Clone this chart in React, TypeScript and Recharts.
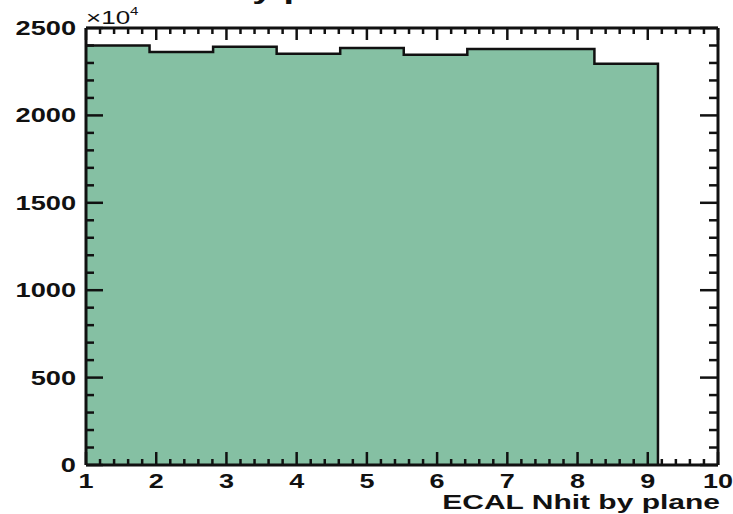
import { Area, ComposedChart, Line, XAxis, YAxis } from 'recharts'

// ECAL hits per plane, 9 bins (values in units of 10^4)
const binEdges = [1, 1.905, 2.81, 3.715, 4.62, 5.525, 6.43, 7.335, 8.24, 9.145]
const binCounts = [2400, 2362, 2393, 2353, 2385, 2347, 2380, 2380, 2296]

const xMajorTicks = [1, 2, 3, 4, 5, 6, 7, 8, 9, 10]
const yMajorTicks = [0, 500, 1000, 1500, 2000, 2500]
const xMinorStep = 0.2
const yMinorStep = 100

const FONT = '"Liberation Sans", Arial, Helvetica, sans-serif'
const FILL = '#85c0a3'
const INK = '#111'

// last edge closes the histogram down to zero
const histData = binEdges.map((x, i) => ({
  x,
  count: i < binCounts.length ? binCounts[i] : 0,
}))

function withMinors(majors: number[], step: number) {
  const out: number[] = []
  for (let i = 0; i < majors.length - 1; i++) {
    const a = majors[i]
    const b = majors[i + 1]
    const n = Math.round((b - a) / step)
    for (let k = 0; k < n; k++) out.push(Math.round((a + k * step) * 1000) / 1000)
  }
  out.push(majors[majors.length - 1])
  return out
}

const xTicks = withMinors(xMajorTicks, xMinorStep)
const yTicks = withMinors(yMajorTicks, yMinorStep)

// the source picture is stretched sideways, so text gets a horizontal scale
function WideText(props: any) {
  const { x, y, sx = 1.4, size = 20, bold = true, anchor = 'start', children } = props
  return (
    <text
      transform={`translate(${x},${y}) scale(${sx},1)`}
      textAnchor={anchor}
      fontFamily={FONT}
      fontWeight={bold ? 'bold' : 'normal'}
      fontSize={size}
      fill={INK}
    >
      {children}
    </text>
  )
}

function XTick(props: any) {
  const { x, y, payload, side } = props
  const v = payload.value
  const major = xMajorTicks.includes(v)
  const len = side === 'bottom' ? (major ? 13 : 6) : major ? 12 : 6
  const dir = side === 'bottom' ? -1 : 1
  return (
    <g>
      <line x1={x} x2={x} y1={y} y2={y + dir * len} stroke={INK} strokeWidth={2.5} />
      {side === 'bottom' && major && (
        <WideText x={x} y={y + 23} anchor="middle" sx={1.35}>
          {v}
        </WideText>
      )}
    </g>
  )
}

function YTick(props: any) {
  const { x, y, payload, side } = props
  const v = payload.value
  const major = yMajorTicks.includes(v)
  const len = side === 'left' ? (major ? 17 : 8) : major ? 18 : 9
  const dir = side === 'left' ? 1 : -1
  return (
    <g>
      <line x1={x} x2={x + dir * len} y1={y} y2={y} stroke={INK} strokeWidth={2.5} />
      {side === 'left' && major && (
        <WideText x={x - 10} y={y + 7} anchor="end" sx={1.36}>
          {v}
        </WideText>
      )}
    </g>
  )
}

export default function App() {
  return (
    <div style={{ position: 'absolute', left: 0, top: 0, width: 733, height: 514, background: '#fff' }}>
      <ComposedChart
        width={733}
        height={514}
        data={histData}
        margin={{ top: 0, right: 0, bottom: 0, left: 0 }}
      >
        <XAxis
          dataKey="x"
          type="number"
          domain={[1, 10]}
          allowDataOverflow
          ticks={xTicks}
          interval={0}
          height={49}
          tickSize={0}
          tickMargin={0}
          tickLine={false}
          axisLine={{ stroke: INK, strokeWidth: 3 }}
          tick={<XTick side="bottom" />}
        />
        <XAxis
          xAxisId="top"
          dataKey="x"
          type="number"
          orientation="top"
          domain={[1, 10]}
          allowDataOverflow
          ticks={xTicks}
          interval={0}
          height={28}
          tickSize={0}
          tickMargin={0}
          tickLine={false}
          axisLine={{ stroke: INK, strokeWidth: 3 }}
          tick={<XTick side="top" />}
        />
        <YAxis
          type="number"
          domain={[0, 2500]}
          allowDataOverflow
          ticks={yTicks}
          interval={0}
          width={86}
          tickSize={0}
          tickMargin={0}
          tickLine={false}
          axisLine={{ stroke: INK, strokeWidth: 3 }}
          tick={<YTick side="left" />}
        />
        <YAxis
          yAxisId="right"
          type="number"
          orientation="right"
          domain={[0, 2500]}
          allowDataOverflow
          ticks={yTicks}
          interval={0}
          width={15}
          tickSize={0}
          tickMargin={0}
          tickLine={false}
          axisLine={{ stroke: INK, strokeWidth: 3 }}
          tick={<YTick side="right" />}
        />
        <Area
          dataKey="count"
          type="stepAfter"
          stroke={INK}
          strokeWidth={2.5}
          fill={FILL}
          fillOpacity={1}
          dot={false}
          activeDot={false}
          isAnimationActive={false}
        />
        <Line
          dataKey="count"
          xAxisId="top"
          yAxisId="right"
          stroke="none"
          dot={false}
          activeDot={false}
          isAnimationActive={false}
        />
      </ComposedChart>
      <svg
        width={733}
        height={514}
        style={{ position: 'absolute', left: 0, top: 0, pointerEvents: 'none' }}
      >
        {/* histogram title, mostly above the visible canvas */}
        <WideText x={33} y={-1} size={26} sx={1.45}>
          ECAL Nhit by plane
        </WideText>
        <text transform="translate(86,24) scale(1.37,1)" fontFamily={FONT} fontSize={19} fill={INK}>
          ×10
          <tspan fontSize={11} dy={-9}>
            4
          </tspan>
        </text>
        <WideText x={720} y={509} anchor="end" sx={1.5}>
          ECAL Nhit by plane
        </WideText>
      </svg>
    </div>
  )
}
